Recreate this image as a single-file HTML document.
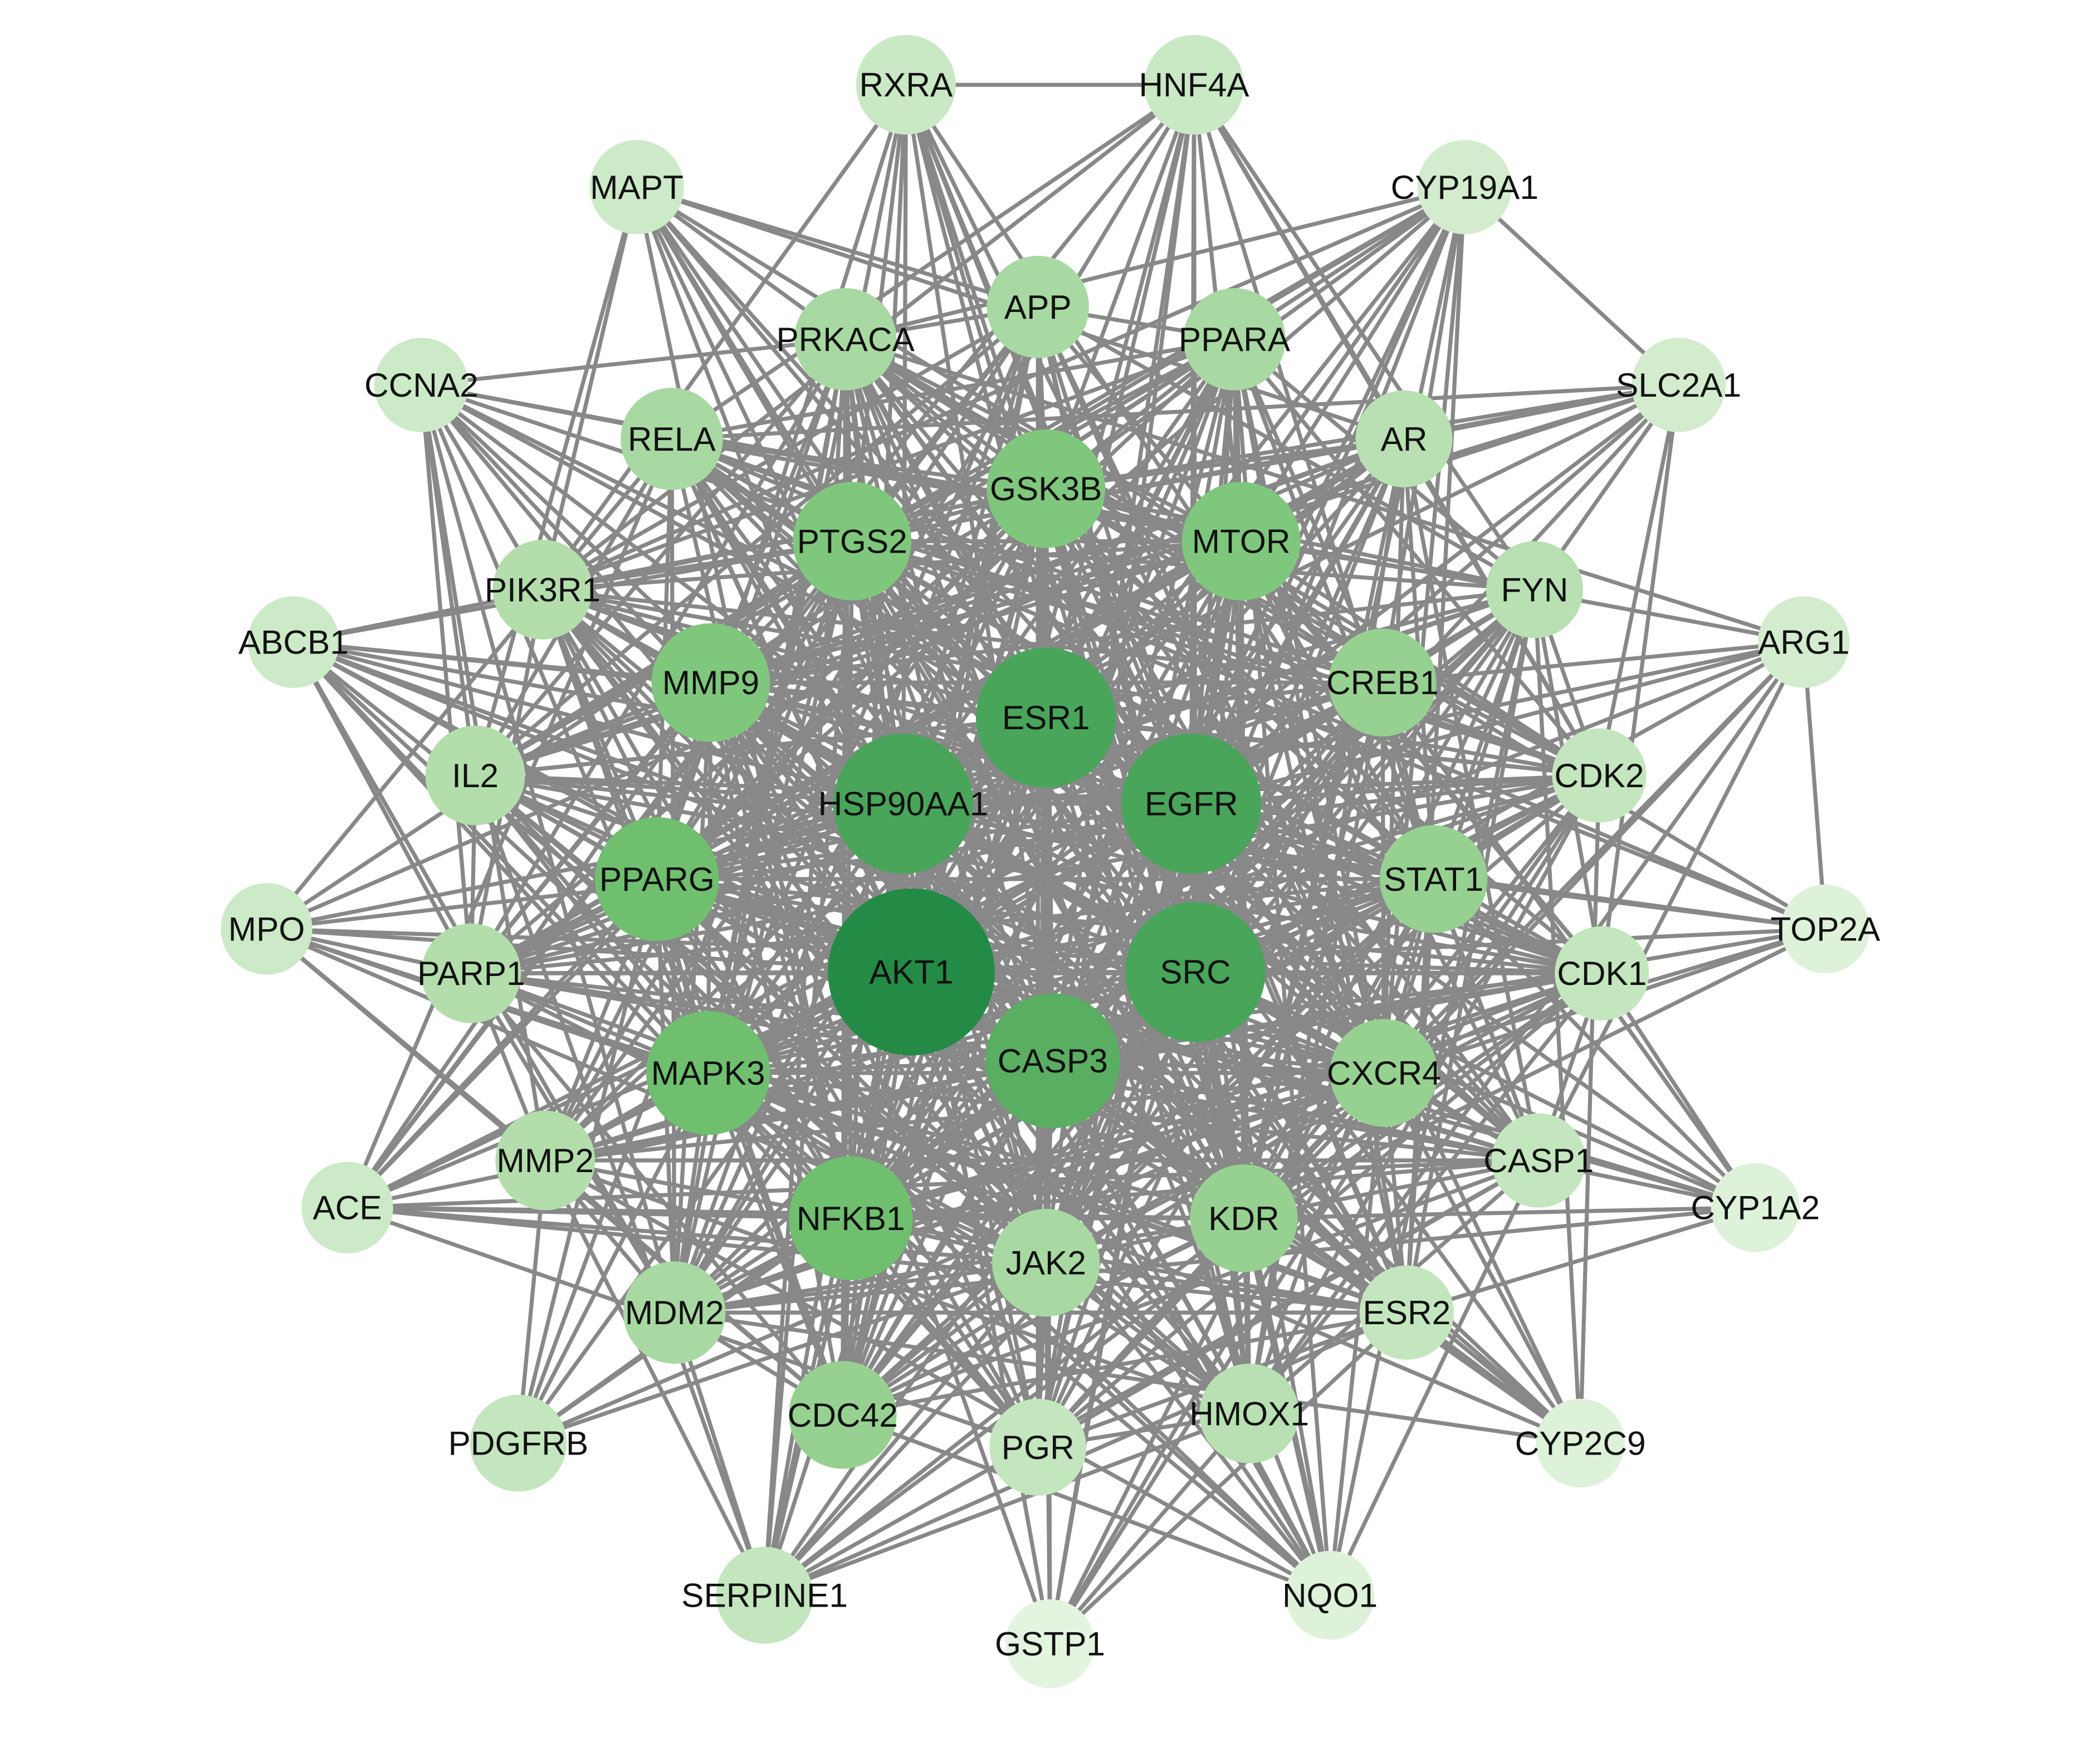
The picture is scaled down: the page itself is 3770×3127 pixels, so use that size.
<!DOCTYPE html>
<html><head><meta charset="utf-8"><style>
html,body{margin:0;padding:0;background:#fff;}
svg{display:block;}
text{font-family:"Liberation Sans",Arial,sans-serif;font-size:25px;fill:#111;text-anchor:middle;dominant-baseline:central;}
</style></head><body>
<svg id="g" width="3770" height="3127" viewBox="0 0 1560 1294" xmlns="http://www.w3.org/2000/svg">
<g id="edges" stroke="#888" stroke-width="3" fill="none"></g>
<g id="nodes">
<circle cx="673" cy="63" r="37" fill="#c9e8c4"/><text x="673" y="63">RXRA</text>
<circle cx="887" cy="63" r="37" fill="#c9e8c4"/><text x="887" y="63">HNF4A</text>
<circle cx="473" cy="139" r="35" fill="#cdeac8"/><text x="473" y="139">MAPT</text>
<circle cx="1088" cy="139" r="35" fill="#d3ecce"/><text x="1088" y="139">CYP19A1</text>
<circle cx="771" cy="228" r="38" fill="#a8d9a2"/><text x="771" y="228">APP</text>
<circle cx="628" cy="252" r="38" fill="#a8d9a2"/><text x="628" y="252">PRKACA</text>
<circle cx="917" cy="252" r="38" fill="#a8d9a2"/><text x="917" y="252">PPARA</text>
<circle cx="313" cy="286" r="35" fill="#cdeac8"/><text x="313" y="286">CCNA2</text>
<circle cx="1247" cy="286" r="35" fill="#d3ecce"/><text x="1247" y="286">SLC2A1</text>
<circle cx="499" cy="326" r="38" fill="#a8d9a2"/><text x="499" y="326">RELA</text>
<circle cx="1043" cy="326" r="36" fill="#b8e0b2"/><text x="1043" y="326">AR</text>
<circle cx="777" cy="363" r="44" fill="#7fc77c"/><text x="777" y="363">GSK3B</text>
<circle cx="633" cy="402" r="44" fill="#7fc77c"/><text x="633" y="402">PTGS2</text>
<circle cx="922" cy="402" r="44" fill="#7fc77c"/><text x="922" y="402">MTOR</text>
<circle cx="403" cy="438" r="37" fill="#b3deac"/><text x="403" y="438">PIK3R1</text>
<circle cx="1140" cy="438" r="36" fill="#b8e0b2"/><text x="1140" y="438">FYN</text>
<circle cx="218" cy="477" r="34" fill="#cdeac8"/><text x="218" y="477">ABCB1</text>
<circle cx="1340" cy="477" r="34" fill="#d3ecce"/><text x="1340" y="477">ARG1</text>
<circle cx="528" cy="507" r="44" fill="#7fc77c"/><text x="528" y="507">MMP9</text>
<circle cx="1027" cy="507" r="40" fill="#97d191"/><text x="1027" y="507">CREB1</text>
<circle cx="777" cy="533" r="52" fill="#48a55a"/><text x="777" y="533">ESR1</text>
<circle cx="671" cy="597" r="52" fill="#48a55a"/><text x="671" y="597">HSP90AA1</text>
<circle cx="885" cy="597" r="52" fill="#48a55a"/><text x="885" y="597">EGFR</text>
<circle cx="353" cy="576" r="37" fill="#b3deac"/><text x="353" y="576">IL2</text>
<circle cx="1188" cy="576" r="35" fill="#c4e6be"/><text x="1188" y="576">CDK2</text>
<circle cx="488" cy="653" r="46" fill="#6fbf6f"/><text x="488" y="653">PPARG</text>
<circle cx="1065" cy="653" r="40" fill="#97d191"/><text x="1065" y="653">STAT1</text>
<circle cx="198" cy="690" r="34" fill="#cdeac8"/><text x="198" y="690">MPO</text>
<circle cx="1356" cy="690" r="33" fill="#def2da"/><text x="1356" y="690">TOP2A</text>
<circle cx="350" cy="723" r="37" fill="#b3deac"/><text x="350" y="723">PARP1</text>
<circle cx="1190" cy="723" r="35" fill="#c4e6be"/><text x="1190" y="723">CDK1</text>
<circle cx="677" cy="722" r="62" fill="#238b45"/><text x="677" y="722">AKT1</text>
<circle cx="888" cy="722" r="52" fill="#48a55a"/><text x="888" y="722">SRC</text>
<circle cx="782" cy="788" r="50" fill="#5aae62"/><text x="782" y="788">CASP3</text>
<circle cx="526" cy="797" r="46" fill="#6fbf6f"/><text x="526" y="797">MAPK3</text>
<circle cx="1028" cy="797" r="40" fill="#97d191"/><text x="1028" y="797">CXCR4</text>
<circle cx="405" cy="862" r="37" fill="#b3deac"/><text x="405" y="862">MMP2</text>
<circle cx="1143" cy="862" r="35" fill="#c4e6be"/><text x="1143" y="862">CASP1</text>
<circle cx="258" cy="897" r="34" fill="#cdeac8"/><text x="258" y="897">ACE</text>
<circle cx="1304" cy="897" r="33" fill="#def2da"/><text x="1304" y="897">CYP1A2</text>
<circle cx="632" cy="905" r="46" fill="#6fbf6f"/><text x="632" y="905">NFKB1</text>
<circle cx="924" cy="905" r="40" fill="#97d191"/><text x="924" y="905">KDR</text>
<circle cx="777" cy="938" r="40" fill="#a8d9a2"/><text x="777" y="938">JAK2</text>
<circle cx="501" cy="975" r="38" fill="#a8d9a2"/><text x="501" y="975">MDM2</text>
<circle cx="1045" cy="975" r="35" fill="#c4e6be"/><text x="1045" y="975">ESR2</text>
<circle cx="385" cy="1072" r="36" fill="#c4e6be"/><text x="385" y="1072">PDGFRB</text>
<circle cx="626" cy="1051" r="40" fill="#97d191"/><text x="626" y="1051">CDC42</text>
<circle cx="771" cy="1075" r="36" fill="#c4e6be"/><text x="771" y="1075">PGR</text>
<circle cx="928" cy="1050" r="37" fill="#b8e0b2"/><text x="928" y="1050">HMOX1</text>
<circle cx="1174" cy="1072" r="33" fill="#def2da"/><text x="1174" y="1072">CYP2C9</text>
<circle cx="568" cy="1185" r="36" fill="#c4e6be"/><text x="568" y="1185">SERPINE1</text>
<circle cx="988" cy="1185" r="33" fill="#def2da"/><text x="988" y="1185">NQO1</text>
<circle cx="780" cy="1221" r="33" fill="#e3f4df"/><text x="780" y="1221">GSTP1</text>
</g>
</svg>
<script>
(function(){
var cs=[].slice.call(document.querySelectorAll('#nodes circle'));
var n=cs.map(function(c){return {x:+c.getAttribute('cx'),y:+c.getAttribute('cy'),r:+c.getAttribute('r')};});
var seed=12345;function rnd(){seed=(seed*1103515245+12345)&0x7fffffff;return seed/0x7fffffff;}
var cx=777,cy=660,out='';
function w(a){var d=Math.hypot(a.x-cx,a.y-cy);return Math.max(0.15,1-d/700)+ (a.r-33)/40;}
for(var i=0;i<n.length;i++)for(var j=i+1;j<n.length;j++){
 var a=n[i],b=n[j];var da=Math.hypot(a.x-cx,a.y-cy),db=Math.hypot(b.x-cx,b.y-cy);
 var p;
 if(da>480&&db>480)p=0.03;else p=Math.min(0.95,w(a)*w(b)*1.6+0.15);
 if(rnd()<p)out+='<line x1="'+a.x+'" y1="'+a.y+'" x2="'+b.x+'" y2="'+b.y+'"/>';
}
out+='<line x1="673" y1="63" x2="887" y2="63"/>';
document.getElementById('edges').innerHTML=out;
})();
</script>
</body></html>
